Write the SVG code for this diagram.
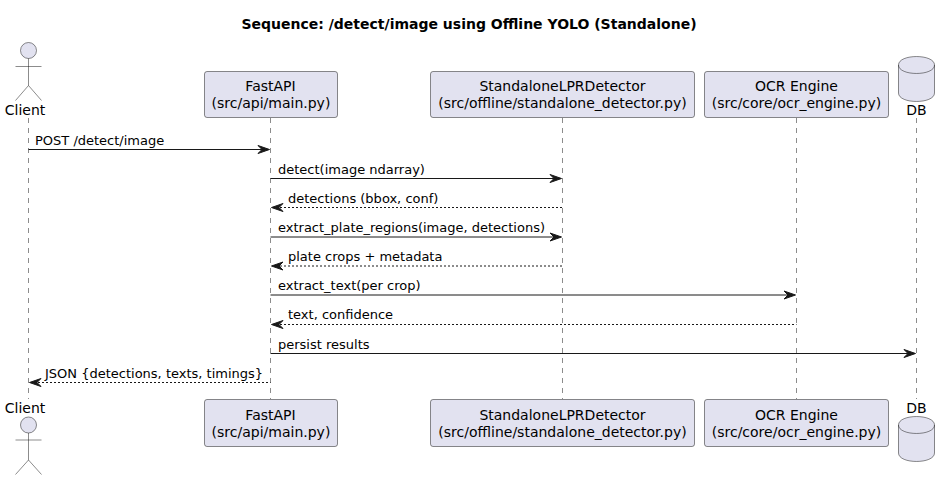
<svg xmlns="http://www.w3.org/2000/svg" width="950" height="480" viewBox="0 0 950 480">
<style>
text{font-family:"DejaVu Sans",sans-serif;fill:#000}
.title{font-size:14px;font-weight:bold;text-anchor:middle}
.p{font-size:14px;text-anchor:middle}
.m{font-size:13px}
.box,.shape{fill:#E2E2F0;stroke:#181818;stroke-width:.5}
.stick{fill:none;stroke:#181818;stroke-width:.5}
.life{stroke:#181818;stroke-width:.5;stroke-dasharray:5 5}
.msg{stroke:#181818;stroke-width:1;fill:none}
.ret{stroke-dasharray:2 2}
.head{fill:#181818;stroke:#181818;stroke-width:1}
</style>
<defs>
<path id="ar" class="head" d="M-11.5,-4 L0,0 L-11.5,4 L-7.5,0 Z"/>
<path id="al" class="head" d="M11.5,-4 L0,0 L11.5,4 L7.5,0 Z"/>
</defs>
<text class="title" x="469" y="28.5">Sequence: /detect/image using Offline YOLO (Standalone)</text>
<g id="lifelines">
<line class="life" x1="28.5" y1="118" x2="28.5" y2="399"/>
<line class="life" x1="270.5" y1="118" x2="270.5" y2="399"/>
<line class="life" x1="562.5" y1="118" x2="562.5" y2="399"/>
<line class="life" x1="796.5" y1="118" x2="796.5" y2="399"/>
<line class="life" x1="916.5" y1="118" x2="916.5" y2="399"/>
</g>
<g id="connectors">
<line class="msg" x1="28.5" y1="149.5" x2="265" y2="149.5"/><use href="#ar" x="269.5" y="149.5"/>
<text class="m" x="35" y="145">POST /detect/image</text>
<line class="msg" x1="270.5" y1="178.5" x2="557" y2="178.5"/><use href="#ar" x="561.5" y="178.5"/>
<text class="m" x="278" y="174">detect(image ndarray)</text>
<line class="msg ret" x1="276" y1="207.5" x2="562.5" y2="207.5"/><use href="#al" x="271.5" y="207.5"/>
<text class="m" x="288" y="203">detections (bbox, conf)</text>
<line class="msg" x1="270.5" y1="237" x2="557" y2="237"/><use href="#ar" x="561.5" y="237"/>
<text class="m" x="278" y="232">extract_plate_regions(image, detections)</text>
<line class="msg ret" x1="276" y1="266" x2="562.5" y2="266"/><use href="#al" x="271.5" y="266"/>
<text class="m" x="288" y="261">plate crops + metadata</text>
<line class="msg" x1="270.5" y1="295" x2="791" y2="295"/><use href="#ar" x="795.5" y="295"/>
<text class="m" x="278" y="290">extract_text(per crop)</text>
<line class="msg ret" x1="276" y1="324.5" x2="796.5" y2="324.5"/><use href="#al" x="271.5" y="324.5"/>
<text class="m" x="288" y="319">text, confidence</text>
<line class="msg" x1="270.5" y1="353.5" x2="911" y2="353.5"/><use href="#ar" x="915.5" y="353.5"/>
<text class="m" x="278" y="349">persist results</text>
<line class="msg ret" x1="34" y1="382.5" x2="270.5" y2="382.5"/><use href="#al" x="29.5" y="382.5"/>
<text class="m" x="45" y="378">JSON {detections, texts, timings}</text>
</g>
<g id="client-top">
<circle class="shape" cx="28.5" cy="50.5" r="8"/>
<path class="stick" d="M28.5,58.5V85.5M15.5,66.5H41.5M28.5,85.5L15.5,100.5M28.5,85.5L41.5,100.5"/>
<text class="p" x="25" y="115">Client</text>
</g>
<g id="fastapi-top">
<rect class="box" x="204.5" y="71.5" width="133" height="46" rx="2.5"/>
<text class="p" x="270.5" y="91">FastAPI</text><text class="p" x="271" y="108">(src/api/main.py)</text>
</g>
<g id="detector-top">
<rect class="box" x="430.5" y="71.5" width="264" height="46" rx="2.5"/>
<text class="p" x="562.5" y="91">StandaloneLPRDetector</text><text class="p" x="562.5" y="108">(src/offline/standalone_detector.py)</text>
</g>
<g id="ocr-top">
<rect class="box" x="704.5" y="71.5" width="184" height="46" rx="2.5"/>
<text class="p" x="796.5" y="91">OCR Engine</text><text class="p" x="796.5" y="108">(src/core/ocr_engine.py)</text>
</g>
<g id="db-top">
<path class="shape" d="M898.5,65C898.5,53.7 934.5,53.7 934.5,65V93C934.5,104.3 898.5,104.3 898.5,93Z"/>
<path class="stick" d="M898.5,65C898.5,76.3 934.5,76.3 934.5,65"/>
<text class="p" x="916.5" y="115">DB</text>
</g>
<g id="client-bottom">
<text class="p" x="25" y="413">Client</text>
<circle class="shape" cx="28.5" cy="425" r="8"/>
<path class="stick" d="M28.5,433V460M15.5,440H41.5M28.5,460L15.5,474.5M28.5,460L41.5,474.5"/>
</g>
<g id="fastapi-bottom">
<rect class="box" x="204.5" y="399.5" width="133" height="47" rx="2.5"/>
<text class="p" x="270.5" y="420">FastAPI</text><text class="p" x="271" y="437">(src/api/main.py)</text>
</g>
<g id="detector-bottom">
<rect class="box" x="430.5" y="399.5" width="264" height="47" rx="2.5"/>
<text class="p" x="562.5" y="420">StandaloneLPRDetector</text><text class="p" x="562.5" y="437">(src/offline/standalone_detector.py)</text>
</g>
<g id="ocr-bottom">
<rect class="box" x="704.5" y="399.5" width="184" height="47" rx="2.5"/>
<text class="p" x="796.5" y="420">OCR Engine</text><text class="p" x="796.5" y="437">(src/core/ocr_engine.py)</text>
</g>
<g id="db-bottom">
<text class="p" x="916.5" y="413">DB</text>
<path class="shape" d="M898.5,425C898.5,413.7 934.5,413.7 934.5,425V453C934.5,464.3 898.5,464.3 898.5,453Z"/>
<path class="stick" d="M898.5,425C898.5,436.3 934.5,436.3 934.5,425"/>
</g>
</svg>
